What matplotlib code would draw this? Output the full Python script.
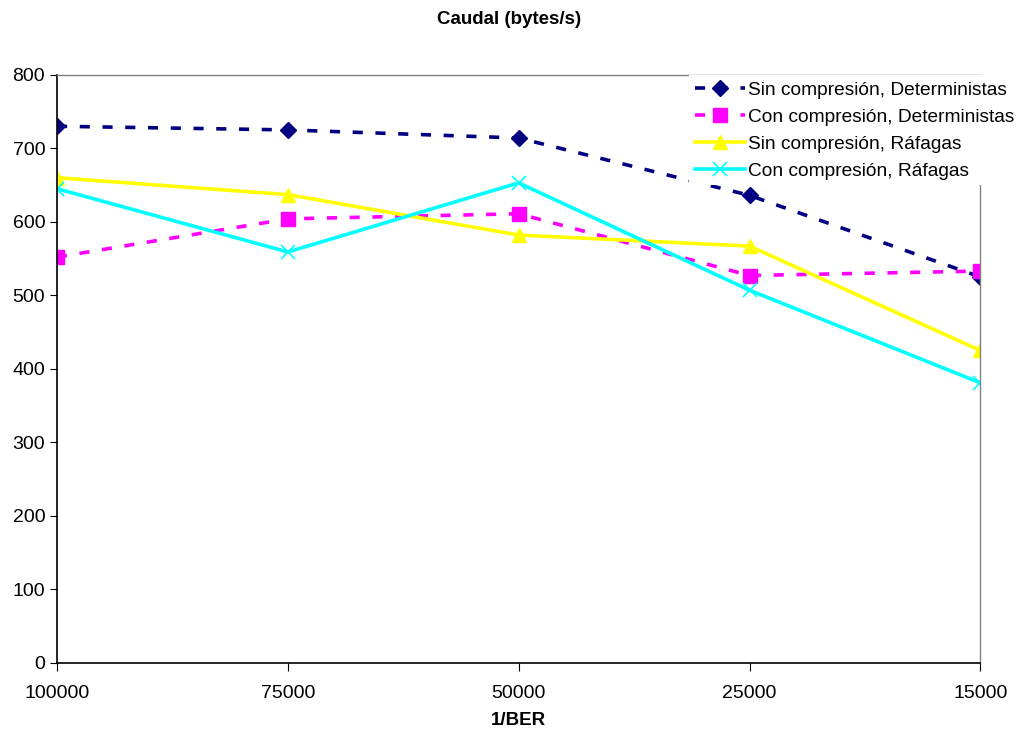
import numpy as np
import matplotlib.pyplot as plt

plt.rcParams['font.family'] = ['Liberation Sans', 'DejaVu Sans']

categorias = ['100000', '75000', '50000', '25000', '15000']
sin_det = [730, 725, 714, 636, 525]
con_det = [552, 604, 611, 527, 533]
sin_raf = [660, 637, 582, 567, 425]
con_raf = [645, 559, 653, 507, 381]

x = np.arange(len(categorias))

fig = plt.figure(figsize=(10.18, 7.33), dpi=100)
ax = fig.add_axes([0.056, 0.0955, 0.907, 0.8025])

ax.plot(x, sin_det, color='#000080', lw=2.6, ls=(0, (2.8, 3.5)), marker='D', ms=8.5,
        label='Sin compresión, Deterministas')
ax.plot(x, con_det, color='#FF00FF', lw=2.6, ls=(0, (2.8, 3.5)), marker='s', ms=10,
        label='Con compresión, Deterministas')
ax.plot(x, sin_raf, color='#FFFF00', lw=2.6, marker='^', ms=10,
        label='Sin compresión, Ráfagas')
ax.plot(x, con_raf, color='#00FFFF', lw=2.6, marker='x', ms=10, mew=1.2,
        label='Con compresión, Ráfagas')

ax.set_xlim(0, len(categorias) - 1)
ax.set_ylim(0, 800)
ax.set_xticks(x)
ax.set_xticklabels(categorias, fontsize=14)
ax.set_yticks(np.arange(0, 801, 100))
ax.tick_params(axis='y', labelsize=14, length=5, direction='out')
ax.tick_params(axis='x', length=6, direction='out', pad=10)

for s in ['top', 'right']:
    ax.spines[s].set_color('#808080')
    ax.spines[s].set_linewidth(1)
for s in ['left', 'bottom']:
    ax.spines[s].set_color('black')
    ax.spines[s].set_linewidth(1.2)

ax.set_xlabel('1/BER', fontsize=13.5, fontweight='bold', labelpad=7)
fig.suptitle('Caudal (bytes/s)', fontsize=13.5, fontweight='bold', y=0.985)

leg = fig.legend(loc='upper left', bbox_to_anchor=(0.677, 0.897), fontsize=13.8,
                 frameon=True, framealpha=1, edgecolor='white', fancybox=False,
                 handlelength=2.6, handletextpad=0.15, labelspacing=0.5,
                 borderpad=0.3, borderaxespad=0)
leg.get_frame().set_linewidth(0)

fig.savefig('out.png', dpi=100)
